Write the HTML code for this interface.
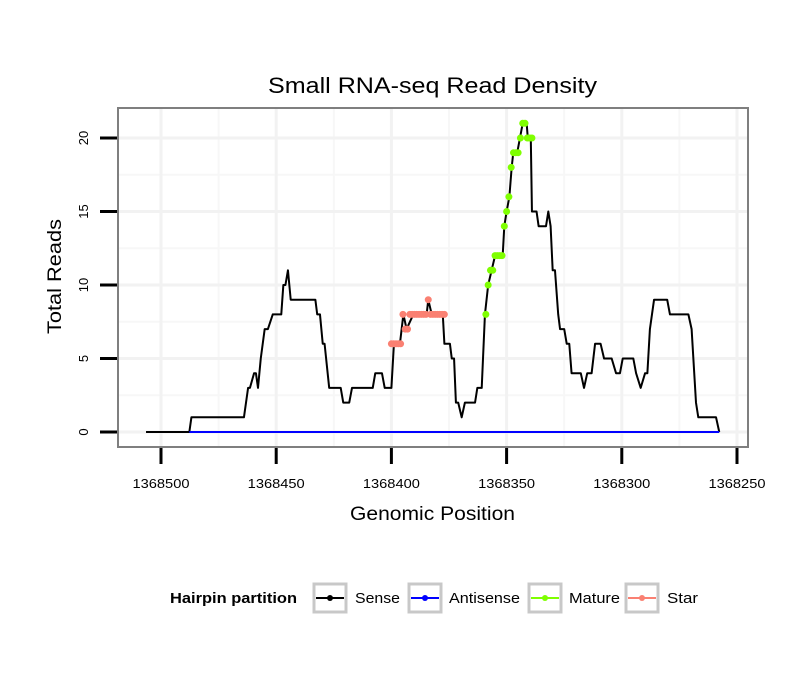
<!DOCTYPE html>
<html><head><meta charset="utf-8"><style>
body{margin:0;background:#fff;font-family:"Liberation Sans",sans-serif}
svg text{font-family:"Liberation Sans",sans-serif}
</style></head><body>
<svg id="chart" width="810" height="690" xmlns="http://www.w3.org/2000/svg">
<rect width="810" height="690" fill="#fff"/>
<text x="268" y="93" font-size="22" textLength="329" lengthAdjust="spacingAndGlyphs">Small RNA-seq Read Density</text>
<g id="grid"></g>
<g id="series"></g>
<rect x="118" y="108" width="630" height="339" fill="none" stroke="#7f7f7f" stroke-width="2"/>
<g id="axes"></g>
<text x="350" y="520" font-size="19" textLength="165" lengthAdjust="spacingAndGlyphs">Genomic Position</text>
<text transform="translate(61,334) rotate(-90)" font-size="19" textLength="115" lengthAdjust="spacingAndGlyphs">Total Reads</text>
<g>
<text x="170" y="603" font-size="15" font-weight="bold" textLength="127" lengthAdjust="spacingAndGlyphs">Hairpin partition</text>
<g>
<rect x="314" y="584" width="32" height="28" fill="#fff" stroke="#c8c8c8" stroke-width="3"/>
<line x1="316" y1="598" x2="344" y2="598" stroke="#000" stroke-width="2"/><circle cx="330" cy="598" r="3" fill="#000"/>
<text x="355" y="603" font-size="15" textLength="45" lengthAdjust="spacingAndGlyphs">Sense</text></g>
<g>
<rect x="409" y="584" width="32" height="28" fill="#fff" stroke="#c8c8c8" stroke-width="3"/>
<line x1="411" y1="598" x2="439" y2="598" stroke="#0000ff" stroke-width="2"/><circle cx="425" cy="598" r="3" fill="#0000ff"/>
<text x="449" y="603" font-size="15" textLength="71" lengthAdjust="spacingAndGlyphs">Antisense</text></g>
<g>
<rect x="529" y="584" width="32" height="28" fill="#fff" stroke="#c8c8c8" stroke-width="3"/>
<line x1="531" y1="598" x2="559" y2="598" stroke="#7fff00" stroke-width="2"/><circle cx="545" cy="598" r="3" fill="#7fff00"/>
<text x="569" y="603" font-size="15" textLength="51" lengthAdjust="spacingAndGlyphs">Mature</text></g>
<g>
<rect x="626" y="584" width="32" height="28" fill="#fff" stroke="#c8c8c8" stroke-width="3"/>
<line x1="628" y1="598" x2="656" y2="598" stroke="#fa8072" stroke-width="2"/><circle cx="642" cy="598" r="3" fill="#fa8072"/>
<text x="667" y="603" font-size="15" textLength="31" lengthAdjust="spacingAndGlyphs">Star</text></g>
</g>
</svg>
<script>
const xTicks=[1368500,1368450,1368400,1368350,1368300,1368250];
const yTicks=[0,5,10,15,20];
const senseOff=[6.5,-12.3,-13.2,-36,-37.8,-38.6,-40.4,-41.2,-42.1,-43.3,-45,-46.4,-48.5,-52.2,-53.1,-54,-55.1,-56.3,-67,-67.8,-69,-70.2,-71,-73,-78,-79.1,-81.7,-82.9,-91.9,-93,-95.9,-97.1,-100,-101.1,-103.7,-105.2,-106.6,-109.5,-115.3,-116,-117.5,-122.3,-123,-125.4,-126.2,-127.2,-128,-129,-130.5,-131.9,-136.3,-137.3,-139.2,-140.6,-142,-143.5,-145,-148.3,-149,-150,-151.2,-152.2,-152.9,-154.6,-155.8,-157,-158.7,-159.2,-160.5,-161,-163,-163.9,-167.1,-168.1,-169.1,-170,-171,-172.4,-173.2,-175,-176.1,-177.2,-178.2,-182.2,-183.6,-185,-186.9,-188.4,-190.8,-192.3,-195.6,-197.5,-199.2,-200.4,-205,-206.2,-208.2,-210.1,-211.1,-212.2,-214,-219.7,-220.9,-228.9,-230.3,-232.2,-233.2,-240.9,-242.3];
const senseVal=[0,0,1,1,3,3,4,4,3,5,7,7,8,8,10,10,11,9,9,8,8,6,6,3,3,2,2,3,3,4,4,3,3,6,6,8,7,8,8,9,8,8,6,6,5,5,2,2,1,2,2,3,3,8,10,11,12,12,14,15,16,18,19,19,20,21,21,20,20,15,15,14,14,15,14,11,11,8,7,7,6,6,4,4,3,4,4,6,6,5,5,4,4,5,5,4,3,4,4,7,9,9,8,8,7,2,1,1,0];
const senseBase=1368500;
const antiPos=[1368487.7,1368257.7];
const antiVal=[0,0];
const starPos=[1368400,1368399,1368398,1368397,1368396,1368395,1368394,1368393,1368392,1368391,1368390,1368389,1368388,1368387,1368386,1368385,1368384,1368383,1368382,1368381,1368380,1368379,1368378,1368377];
const starVal=[6,6,6,6,6,8,7,7,8,8,8,8,8,8,8,8,9,8,8,8,8,8,8,8];
const matPos=[1368359,1368358,1368357,1368356,1368355,1368354,1368353,1368352,1368351,1368350,1368349,1368348,1368347,1368346,1368345,1368344,1368343,1368342,1368341,1368340,1368339];
const matVal=[8,10,11,11,12,12,12,12,14,15,16,18,19,19,19,20,21,21,20,20,20];

const NS="http://www.w3.org/2000/svg";
const sx=p=>161+(1368500-p)*2.304;
const sy=v=>432-v*14.7;
function mk(tag,attrs,parent){const e=document.createElementNS(NS,tag);for(const k in attrs)e.setAttribute(k,attrs[k]);parent.appendChild(e);return e;}
const grid=document.getElementById('grid'),ser=document.getElementById('series'),axes=document.getElementById('axes');
for(let i=0;i<xTicks.length;i++){const m=xTicks[i]+25;const x=sx(m);if(x>118&&x<748){const l=mk('line',{x1:x,x2:x,y1:109,y2:446,stroke:'#f7f7f7','stroke-width':2},grid);

}}
for(let i=0;i<yTicks.length;i++){const y=sy(yTicks[i]+2.5);if(y>108){const l=mk('line',{x1:119,x2:747,y1:y,y2:y,stroke:'#f7f7f7','stroke-width':2},grid);

}}
xTicks.forEach(t=>{const x=sx(t);const l=mk('line',{x1:x,x2:x,y1:109,y2:446,stroke:'#f2f2f2','stroke-width':3},grid);


const tk=mk('line',{x1:x,x2:x,y1:448,y2:464,stroke:'#000','stroke-width':3},axes);


const tx=mk('text',{x:x-28.5,y:488,'font-size':13,textLength:57,lengthAdjust:'spacingAndGlyphs'},axes);tx.textContent=t;

});
yTicks.forEach(t=>{const y=sy(t);const l=mk('line',{x1:119,x2:747,y1:y,y2:y,stroke:'#f2f2f2','stroke-width':3},grid);


const tk=mk('line',{x1:100,x2:117,y1:y,y2:y,stroke:'#000','stroke-width':3},axes);


const tx=mk('text',{transform:`translate(88,${y}) rotate(-90)`,'font-size':13,'text-anchor':'middle'},axes);tx.textContent=t;

});
const sp=mk('polyline',{points:senseOff.map((o,i)=>sx(senseBase+o)+','+sy(senseVal[i])).join(' '),fill:'none',stroke:'#000','stroke-width':2,'stroke-linejoin':'round'},ser);


const ap=mk('polyline',{points:antiPos.map((p,i)=>sx(p)+','+sy(antiVal[i])).join(' '),fill:'none',stroke:'#0000ff','stroke-width':2},ser);


starPos.forEach((p,i)=>{const c=mk('circle',{cx:sx(p),cy:sy(starVal[i]),r:3.5,fill:'#fa8072'},ser);

});
matPos.forEach((p,i)=>{const c=mk('circle',{cx:sx(p),cy:sy(matVal[i]),r:3.5,fill:'#7fff00'},ser);

});
</script>
</body></html>
